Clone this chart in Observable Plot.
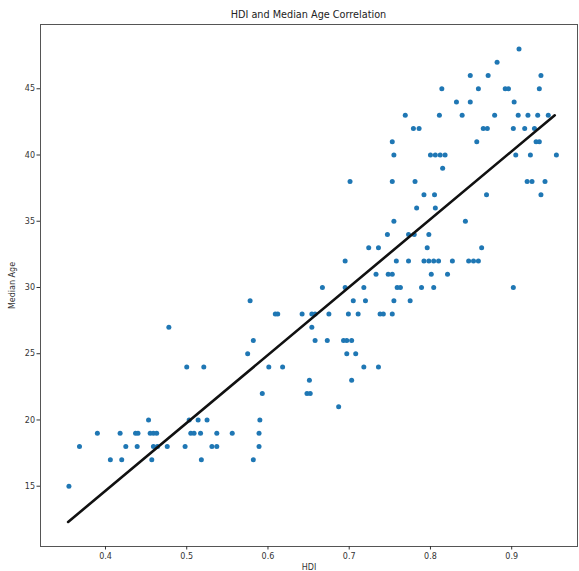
<!DOCTYPE html>
<html>
<head>
<meta charset="utf-8">
<script src="https://cdn.jsdelivr.net/npm/d3@7"></script>
<script src="https://cdn.jsdelivr.net/npm/@observablehq/plot@0.6"></script>
<style>
  html, body { margin: 0; padding: 0; background: #fff; }
  #chart figure { margin: 0; }
  #chart h2 {
    margin: 0; padding: 9px 2px 0 40px; height: 22px; line-height: 12px; box-sizing: border-box;
    font: 9.7px "DejaVu Sans", sans-serif; color: #222; text-align: center; font-weight: normal;
  }
</style>
</head>
<body>
<div id="chart"></div>
<script>
// Median age levels (years) and the HDI values of the countries at each level
const ageLevels = [15, 17, 18, 19, 20, 21, 22, 23, 24, 25, 26, 27, 28, 29, 30, 31, 32, 33, 34, 35, 36, 37, 38, 39, 40, 41, 42, 43, 44, 45, 46, 47, 48];
const hdiByAge = [
  [0.355],
  [0.406, 0.420, 0.457, 0.518, 0.582],
  [0.368, 0.425, 0.439, 0.459, 0.464, 0.476, 0.498, 0.531, 0.537, 0.589],
  [0.390, 0.418, 0.437, 0.440, 0.455, 0.459, 0.463, 0.505, 0.509, 0.517, 0.537, 0.556, 0.589],
  [0.453, 0.503, 0.514, 0.525, 0.590],
  [0.687],
  [0.593, 0.648, 0.652],
  [0.651, 0.703],
  [0.500, 0.521, 0.601, 0.618, 0.718, 0.736],
  [0.575, 0.697, 0.708],
  [0.582, 0.658, 0.673, 0.693, 0.697, 0.703],
  [0.478, 0.654],
  [0.609, 0.612, 0.642, 0.654, 0.658, 0.675, 0.699, 0.711, 0.738, 0.742, 0.753],
  [0.578, 0.705, 0.720, 0.755, 0.775],
  [0.667, 0.695, 0.718, 0.759, 0.763, 0.789, 0.804, 0.902],
  [0.733, 0.748, 0.753, 0.801, 0.821],
  [0.695, 0.758, 0.773, 0.792, 0.798, 0.804, 0.810, 0.827, 0.847, 0.853, 0.859],
  [0.724, 0.736, 0.796, 0.863],
  [0.747, 0.773, 0.780, 0.798],
  [0.755, 0.843],
  [0.783, 0.806],
  [0.792, 0.805, 0.869, 0.936],
  [0.701, 0.753, 0.781, 0.919, 0.925, 0.941],
  [0.815],
  [0.755, 0.800, 0.806, 0.812, 0.818, 0.905, 0.923, 0.955],
  [0.753, 0.857, 0.930, 0.934],
  [0.779, 0.786, 0.865, 0.870, 0.902, 0.916, 0.928],
  [0.769, 0.811, 0.839, 0.879, 0.908, 0.920, 0.932, 0.945],
  [0.832, 0.849, 0.903],
  [0.814, 0.859, 0.892, 0.896, 0.934],
  [0.849, 0.871, 0.936],
  [0.882],
  [0.909]
];
// Regression line endpoints
const fitHdi = [0.354, 0.953];
const fitAge = [12.3, 43.0];
// Tick labels
const xTicks = [0.4, 0.5, 0.6, 0.7, 0.8, 0.9];
const yTicks = [15, 20, 25, 30, 35, 40, 45];

const points = ageLevels.flatMap((a, i) => hdiByAge[i].map(h => ({hdi: h, age: a})));
const fit = fitHdi.map((h, i) => ({hdi: h, age: fitAge[i]}));

const chart = Plot.plot({
  title: "HDI and Median Age Correlation",
  width: 579,
  height: 549,
  marginLeft: 40,
  marginRight: 2,
  marginTop: 2,
  marginBottom: 25,
  style: {fontFamily: "DejaVu Sans, sans-serif", fontSize: "8px", color: "#333", background: "#fff"},
  x: {domain: [0.320, 0.981]},
  y: {domain: [10.45, 49.85]},
  marks: [
    Plot.frame({stroke: "#555", strokeWidth: 1}),
    Plot.axisX({ticks: xTicks, tickFormat: ".1f", tickSize: 3.5, tickPadding: 3,
      label: "HDI", labelAnchor: "center", labelArrow: "none", labelOffset: 23}),
    Plot.axisY({ticks: yTicks, tickFormat: "d", tickSize: 3.5, tickPadding: 2,
      label: "Median Age", labelAnchor: "center", labelArrow: "none", labelOffset: 31}),
    Plot.dot(points, {x: "hdi", y: "age", r: 2.5, fill: "#1f77b4", stroke: "none"}),
    Plot.line(fit, {x: "hdi", y: "age", stroke: "#111", strokeWidth: 2.6})
  ]
});
document.getElementById("chart").appendChild(chart);
</script>
</body>
</html>
